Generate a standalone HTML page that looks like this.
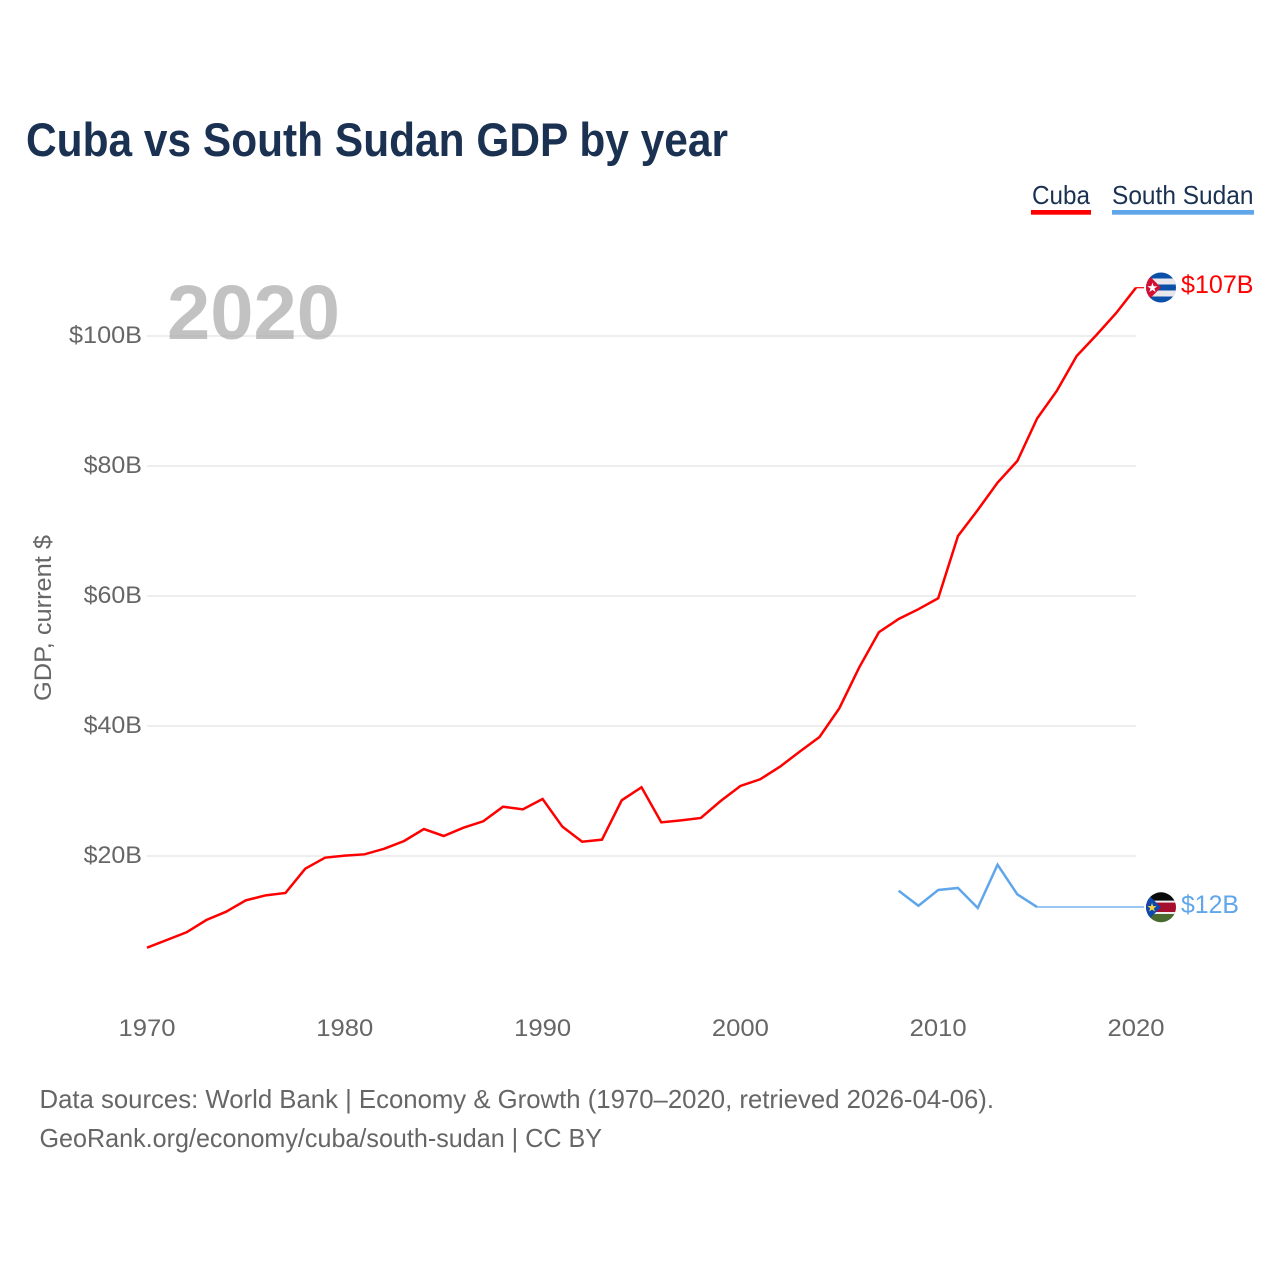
<!DOCTYPE html>
<html lang="en">
<head>
<meta charset="utf-8">
<title>Cuba vs South Sudan GDP by year</title>
<style>
html,body{margin:0;padding:0;background:#fff;}
svg{display:block;}
text{font-family:"Liberation Sans",sans-serif;}
</style>
</head>
<body>
<svg id="chart" xmlns="http://www.w3.org/2000/svg" width="1280" height="1280" viewBox="0 0 1280 1280">
  <defs>
    <clipPath id="cuba-clip"><circle cx="1161" cy="287.5" r="15"/></clipPath>
    <clipPath id="ss-clip"><circle cx="1161" cy="907.3" r="15"/></clipPath>
  </defs>
  <rect x="0" y="0" width="1280" height="1280" fill="#fff"/>
  <text x="26" y="156" font-size="47" font-weight="700" fill="#1a3152" textLength="702" lengthAdjust="spacingAndGlyphs">Cuba vs South Sudan GDP by year</text>

  <g>
    <text x="1032" y="204" font-size="26" fill="#1a3152" textLength="58" lengthAdjust="spacingAndGlyphs">Cuba</text>
    <rect x="1031" y="210" width="60" height="4.7" fill="#ff0000"/>
  </g>
  <g>
    <text x="1112" y="204" font-size="26" fill="#1a3152" textLength="141.5" lengthAdjust="spacingAndGlyphs">South Sudan</text>
    <rect x="1112" y="210" width="142" height="4.7" fill="#5fa6ea"/>
  </g>

  <g id="grid"></g>
  <text x="167" y="339" font-size="77" font-weight="700" fill="#aaaaaa" fill-opacity="0.72" textLength="173" lengthAdjust="spacingAndGlyphs">2020</text>
  <g id="y-ticks"></g>
  <g id="x-ticks"></g>
  <text transform="translate(51,618) rotate(-90)" text-anchor="middle" font-size="24" fill="#666666" textLength="166" lengthAdjust="spacingAndGlyphs">GDP, current $</text>

  <g id="series"></g>

  <g clip-path="url(#cuba-clip)">
    <rect x="1146" y="272" width="30" height="31" fill="#0a4fa8"/>
    <rect x="1146" y="278.5" width="30" height="6" fill="#e8e8ec"/>
    <rect x="1146" y="290.5" width="30" height="6" fill="#e8e8ec"/>
    <polygon points="1146,272.5 1161,287.5 1146,302.5" fill="#d21034"/>
    <text x="1152.5" y="292" font-size="13" text-anchor="middle" fill="#fff">★</text>
  </g>
  <text x="1181" y="293" font-size="25" fill="#ff0000" textLength="72.5" lengthAdjust="spacingAndGlyphs">$107B</text>

  <g clip-path="url(#ss-clip)">
    <rect x="1146" y="892" width="30" height="10" fill="#0a0a0a"/>
    <rect x="1146" y="902" width="30" height="10.5" fill="#a50f2d"/>
    <rect x="1146" y="912.5" width="30" height="10.5" fill="#4a6b2f"/>
    <rect x="1146" y="900.6" width="30" height="2" fill="#eeeeee"/>
    <rect x="1146" y="912" width="30" height="2" fill="#eeeeee"/>
    <polygon points="1146,892.5 1161,907.3 1146,922" fill="#0f47af"/>
    <text x="1152" y="911.5" font-size="12" text-anchor="middle" fill="#f5d742">★</text>
  </g>
  <text x="1181" y="913" font-size="25" fill="#5fa6ea" textLength="58" lengthAdjust="spacingAndGlyphs">$12B</text>

  <text x="39.5" y="1108" font-size="26" fill="#666666" textLength="954.5" lengthAdjust="spacingAndGlyphs">Data sources: World Bank | Economy &amp; Growth (1970–2020, retrieved 2026-04-06).</text>
  <text x="39.5" y="1147" font-size="26" fill="#666666" textLength="562.5" lengthAdjust="spacingAndGlyphs">GeoRank.org/economy/cuba/south-sudan | CC BY</text>
</svg>
<script>
var cubaYears = [1970,1971,1972,1973,1974,1975,1976,1977,1978,1979,1980,1981,1982,1983,1984,1985,1986,1987,1988,1989,1990,1991,1992,1993,1994,1995,1996,1997,1998,1999,2000,2001,2002,2003,2004,2005,2006,2007,2008,2009,2010,2011,2012,2013,2014,2015,2016,2017,2018,2019,2020];
var cubaValues = [5.89,7.08,8.26,10.15,11.43,13.18,13.95,14.31,18.05,19.74,20.05,20.26,21.12,22.31,24.15,23.08,24.35,25.34,27.58,27.18,28.77,24.51,22.2,22.51,28.57,30.57,25.18,25.49,25.85,28.46,30.77,31.8,33.74,36.05,38.31,42.72,48.97,54.42,56.46,57.97,59.65,69.23,73.23,77.43,80.77,87.31,91.58,96.92,100.15,103.54,107.43];
var southSudanYears = [2008,2009,2010,2011,2012,2013,2014,2015];
var southSudanValues = [14.66,12.35,14.77,15.08,12,18.66,14.1,12.15];
var yTickValues = [20,40,60,80,100];
var yTickLabels = ["$20B","$40B","$60B","$80B","$100B"];
var xTickYears = [1970,1980,1990,2000,2010,2020];

var NS = "http://www.w3.org/2000/svg";
function xScale(year){ return 147 + (year - 1970) * 19.78; }
function yScale(value){ return 986 - value * 6.5; }
function makeEl(tag, parent){
  var el = document.createElementNS(NS, tag);
  parent.appendChild(el);
  return el;
}
function pointsFor(years, values){
  return years.map(function(yr, i){
    return xScale(yr).toFixed(2) + "," + yScale(values[i]).toFixed(2);
  }).join(" ");
}

var gridGroup = document.getElementById("grid");
var yTickGroup = document.getElementById("y-ticks");
yTickValues.forEach(function(v, i){
  var line = makeEl("line", gridGroup);
  
  
  line.setAttribute("x1", 147);
  line.setAttribute("x2", 1136);
  line.setAttribute("y1", yScale(v));
  line.setAttribute("y2", yScale(v));
  line.setAttribute("stroke", "#eeeeee");
  line.setAttribute("stroke-width", 2);
  var label = makeEl("text", yTickGroup);
  
  
  label.setAttribute("x", 142 - yTickLabels[i].length * 14.6);
  label.setAttribute("y", yScale(v) + 7);
  label.setAttribute("font-size", 24);
  label.setAttribute("fill", "#666666");
  label.setAttribute("textLength", yTickLabels[i].length * 14.6);
  label.setAttribute("lengthAdjust", "spacingAndGlyphs");
  label.textContent = yTickLabels[i];
});

var xTickGroup = document.getElementById("x-ticks");
xTickYears.forEach(function(yr){
  var label = makeEl("text", xTickGroup);
  
  
  label.setAttribute("x", xScale(yr) - 28.5);
  label.setAttribute("y", 1036);
  label.setAttribute("font-size", 24);
  label.setAttribute("fill", "#666666");
  label.setAttribute("textLength", 57);
  label.setAttribute("lengthAdjust", "spacingAndGlyphs");
  label.textContent = String(yr);
});

var seriesGroup = document.getElementById("series");

var cubaLine = makeEl("polyline", seriesGroup);


cubaLine.setAttribute("points", pointsFor(cubaYears, cubaValues));
cubaLine.setAttribute("fill", "none");
cubaLine.setAttribute("stroke", "#ff0000");
cubaLine.setAttribute("stroke-width", 2.5);

var ssLine = makeEl("polyline", seriesGroup);


ssLine.setAttribute("points", pointsFor(southSudanYears, southSudanValues));
ssLine.setAttribute("fill", "none");
ssLine.setAttribute("stroke", "#5fa6ea");
ssLine.setAttribute("stroke-width", 2.5);

var cubaLastY = yScale(cubaValues[cubaValues.length - 1]);
var cubaLead = makeEl("line", seriesGroup);


cubaLead.setAttribute("x1", xScale(2020));
cubaLead.setAttribute("x2", 1144);
cubaLead.setAttribute("y1", cubaLastY);
cubaLead.setAttribute("y2", cubaLastY);
cubaLead.setAttribute("stroke", "#ff0000");
cubaLead.setAttribute("stroke-width", 1.2);

var ssLastY = yScale(southSudanValues[southSudanValues.length - 1]);
var ssLead = makeEl("line", seriesGroup);


ssLead.setAttribute("x1", xScale(2015));
ssLead.setAttribute("x2", 1144);
ssLead.setAttribute("y1", ssLastY);
ssLead.setAttribute("y2", ssLastY);
ssLead.setAttribute("stroke", "#5fa6ea");
ssLead.setAttribute("stroke-width", 1.2);
</script>
</body>
</html>
